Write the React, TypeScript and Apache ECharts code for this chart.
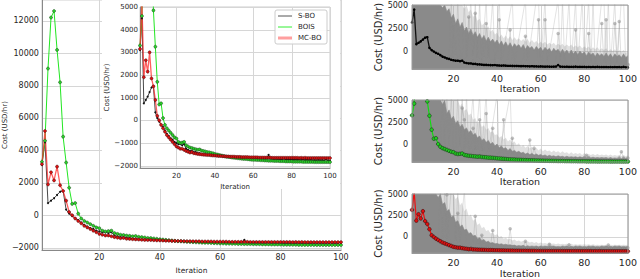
import React, { useEffect, useRef } from 'react';
import * as echarts from 'echarts';

const X_TICKS = [20, 40, 60, 80, 100];
const MAIN_Y_TICKS = [-2000, 0, 2000, 4000, 6000, 8000, 10000, 12000];
const INSET_Y_TICKS = [-2000, -1000, 0, 1000, 2000, 3000, 4000, 5000];
const SUB_Y_TICKS = [0, 2500, 5000];
const MAIN_Y_RANGE = [-2150, 13280];
const INSET_Y_RANGE = [-2100, 5000];
const SUB1_Y_RANGE = [-1950, 5000];
const SUB2_Y_RANGE = [-1890, 5000];
const SUB3_Y_RANGE = [-1880, 5000];

const SBO = [
  3100, 4500, 750, 900, 1050, 1250, 1450, 1500, 350, 100,
  -50, -200, -300, -450, -600, -700, -800, -850, -950, -1000,
  -1050, -1050, -1100, -1050, -1250, -1300, -1350, -1350, -1400, -1400,
  -1450, -1450, -1480, -1500, -1500, -1520, -1530, -1540, -1520, -1550,
  -1570, -1580, -1570, -1590, -1600, -1600, -1610, -1620, -1620, -1630,
  -1640, -1630, -1650, -1650, -1660, -1650, -1670, -1660, -1680, -1670,
  -1680, -1690, -1680, -1690, -1700, -1690, -1680, -1520, -1690, -1700,
  -1710, -1700, -1720, -1710, -1720, -1690, -1730, -1720, -1730, -1720,
  -1740, -1730, -1740, -1730, -1750, -1720, -1750, -1740, -1750, -1740,
  -1760, -1750, -1760, -1740, -1760, -1750, -1770, -1720, -1770, -1780,
];

const BOIS = [
  3300, 4600, 9050, 12200, 12600, 10200, 8200, 4850, 3250, 1700,
  700, 750, 100, -200, -350, -450, -550, -650, -750, -800,
  -950, -1000, -980, -950, -1100, -1150, -1200, -1220, -1250, -1270,
  -1300, -1280, -1330, -1350, -1370, -1400, -1410, -1430, -1450, -1480,
  -1500, -1520, -1540, -1560, -1580, -1600, -1610, -1620, -1640, -1650,
  -1660, -1670, -1680, -1690, -1700, -1700, -1710, -1720, -1730, -1740,
  -1740, -1750, -1750, -1760, -1760, -1770, -1770, -1780, -1780, -1780,
  -1790, -1790, -1790, -1800, -1800, -1800, -1810, -1810, -1810, -1810,
  -1820, -1820, -1820, -1820, -1820, -1830, -1830, -1830, -1830, -1830,
  -1830, -1840, -1840, -1840, -1840, -1840, -1840, -1840, -1840, -1840,
];

const MCBO = [
  3150, 5200, 1900, 2650, 2150, 3000, 1850, 1500, 900, 200,
  0, -200, -350, -500, -650, -750, -850, -950, -1050, -1150,
  -1200, -1250, -1250, -1300, -1350, -1380, -1420, -1400, -1450, -1460,
  -1480, -1490, -1500, -1510, -1520, -1530, -1530, -1540, -1550, -1550,
  -1560, -1570, -1570, -1580, -1580, -1590, -1590, -1600, -1600, -1600,
  -1610, -1610, -1610, -1620, -1620, -1620, -1620, -1630, -1630, -1630,
  -1630, -1630, -1640, -1640, -1640, -1640, -1640, -1640, -1640, -1650,
  -1650, -1650, -1650, -1650, -1650, -1650, -1650, -1650, -1650, -1650,
  -1650, -1650, -1650, -1660, -1650, -1660, -1650, -1660, -1660, -1660,
  -1660, -1660, -1660, -1660, -1660, -1660, -1660, -1660, -1660, -1660,
];

// upper edge of the dense grey cloud of individual runs (right panels)
const SBO_DENSE = [
  5000, 5000, 5000, 5000, 5000, 5000, 5000, 5000, 5000, 5000,
  5000, 5000, 5000, 5000, 4700, 5000, 4300, 4600, 3600, 4000,
  3000, 3500, 2600, 3100, 2200, 2600, 1900, 2400, 1700, 2100,
  1500, 1900, 1300, 1700, 1100, 1500, 1000, 1300, 900, 1200,
  700, 1100, 600, 1000, 500, 900, 400, 800, 500, 700,
  300, 700, 200, 600, 300, 500, 100, 500, 200, 400,
  0, 400, 100, 300, -100, 300, 0, 200, -200, 200,
  -200, 100, -300, 100, -300, 0, -400, 0, -300, -100,
  -500, -100, -400, -200, -600, -200, -500, -300, -600, -200,
  -600, -300, -700, -300, -600, -400, -700, -300, -700, -500,
];
const SBO_HAZE = [
  5000, 5000, 5000, 5000, 5000, 5000, 5000, 5000, 5000, 5000,
  5000, 5000, 5000, 5000, 5000, 5000, 5000, 5000, 5000, 5000,
  5000, 5000, 5000, 5000, 4600, 5000, 4200, 4500, 3700, 4000,
  3300, 3500, 2800, 3000, 2400, 2700, 2100, 2300, 1800, 2000,
  1500, 1800, 1400, 1700, 1300, 1600, 1200, 1500, 1200, 1400,
  1100, 1300, 1000, 1300, 900, 1200, 900, 1100, 800, 1000,
  800, 1000, 700, 900, 700, 900, 600, 800, 600, 800,
  500, 700, 500, 700, 400, 600, 400, 600, 300, 500,
  300, 500, 200, 400, 200, 400, 100, 300, 100, 300,
  0, 200, 0, 200, -100, 100, -100, 100, -200, 0,
];
const BOIS_DENSE = [
  5000, 5000, 5000, 5000, 5000, 5000, 5000, 5000, 5000, 5000,
  5000, 5000, 5000, 5000, 4500, 5000, 3500, 3900, 2900, 3200,
  2400, 2700, 2000, 2300, 1700, 1900, 1400, 1600, 1100, 1300,
  800, 1000, 500, 700, 300, 500, 100, 300, -100, 100,
  -300, -100, -400, -300, -600, -400, -700, -600, -800, -700,
  -900, -800, -1000, -900, -1050, -950, -1100, -1000, -1150, -1050,
  -1200, -1100, -1250, -1150, -1250, -1200, -1300, -1200, -1300, -1250,
  -1350, -1250, -1350, -1300, -1350, -1300, -1400, -1300, -1400, -1350,
  -1400, -1350, -1450, -1350, -1450, -1400, -1450, -1400, -1450, -1400,
  -1500, -1400, -1500, -1450, -1500, -1450, -1500, -1450, -1500, -1450,
];
const BOIS_HAZE = [
  5000, 5000, 5000, 5000, 5000, 5000, 5000, 5000, 5000, 5000,
  5000, 5000, 5000, 5000, 5000, 5000, 5000, 5000, 5000, 5000,
  5000, 5000, 4300, 4600, 3800, 4000, 3300, 3500, 2800, 3000,
  2400, 2600, 2000, 2200, 1700, 1900, 1400, 1500, 1100, 1200,
  800, 1000, 600, 800, 400, 600, 200, 400, 0, 200,
  -200, 0, -300, -100, -400, -200, -500, -300, -600, -400,
  -700, -500, -700, -600, -800, -600, -800, -700, -900, -700,
  -900, -800, -1000, -800, -1000, -900, -1000, -900, -1100, -900,
  -1100, -1000, -1100, -1000, -1150, -1000, -1150, -1050, -1150, -1050,
  -1200, -1050, -1200, -1100, -1200, -1100, -1250, -1100, -1250, -1150,
];
const MCBO_DENSE = [
  5000, 5000, 5000, 5000, 5000, 5000, 5000, 5000, 5000, 5000,
  5000, 5000, 4600, 5000, 3800, 4000, 3000, 3200, 2300, 2500,
  1700, 1900, 1200, 1400, 800, 900, 400, 500, 100, 200,
  -200, -100, -400, -300, -600, -500, -700, -650, -800, -750,
  -850, -800, -900, -850, -950, -900, -1000, -950, -1050, -1000,
  -1050, -1000, -1100, -1050, -1100, -1050, -1100, -1050, -1150, -1050,
  -1100, -1050, -1150, -1050, -1100, -1050, -1150, -1100, -1150, -1050,
  -1100, -1050, -1150, -1100, -1150, -1050, -1100, -1050, -1150, -1100,
  -1150, -1050, -1100, -1050, -1150, -1100, -1150, -1050, -1100, -1050,
  -1150, -1100, -1150, -1050, -1100, -1050, -1150, -1100, -1150, -1100,
];
const MCBO_HAZE = [
  5000, 5000, 5000, 5000, 5000, 5000, 5000, 5000, 5000, 5000,
  5000, 5000, 5000, 5000, 5000, 5000, 5000, 5000, 5000, 5000,
  4400, 4700, 3700, 4000, 3000, 3300, 2400, 2600, 1900, 2100,
  1400, 1600, 1000, 1200, 700, 800, 400, 500, 200, 300,
  0, 100, -200, -100, -300, -200, -400, -300, -500, -400,
  -550, -450, -600, -500, -650, -550, -700, -600, -750, -650,
  -750, -700, -800, -700, -800, -750, -850, -750, -850, -800,
  -850, -800, -900, -800, -900, -850, -900, -850, -900, -850,
  -900, -850, -950, -850, -950, -900, -950, -900, -950, -900,
  -950, -900, -950, -900, -950, -900, -950, -900, -950, -900,
];

// [iteration, cost] points of individual runs that spike out of the cloud
const SBO_SPIKES_TALL = [
  [18, -1000], [19, 5600], [20, -900], [21, -1100], [22, 5600], [23, -1000], [24, -1200], [25, 5600],
  [26, -1100], [28, 5600], [29, -1200], [30, 5600], [31, -1100], [32, 5600], [33, -1300], [35, 5600],
  [36, -1200], [38, 5600], [39, -1300], [41, 5600], [42, -1300], [47, 5600], [48, -1400], [53, 5600],
  [54, -1400], [58, 5600], [59, 5600], [60, -1400], [62, 5600], [63, -1500], [68, 5600], [69, -1400],
  [70, 5600], [71, -1500], [73, 5600], [74, -1500], [76, 5600], [77, -1500], [79, 5600], [80, -1500],
  [82, 5600], [83, -1500], [84, 5600], [85, -1500], [88, 5600], [89, 5600], [90, -1500], [91, 5600],
  [92, -1500], [94, 5600], [95, -1500], [97, 5600], [98, 5600], [99, -1500], [100, -1400],
];
const SBO_SPIKES_MID = [
  [19, -800], [20, 3000], [21, -600], [26, -900], [27, 3700], [28, -800], [29, -700], [30, 4100],
  [31, -900], [34, -800], [35, 3000], [36, -900], [40, -1000], [41, 3400], [42, -1100], [45, -1100],
  [46, 2300], [47, -1100], [52, -1100], [53, 1600], [54, -1200], [58, -1200], [59, 3400], [60, -1200],
  [61, -1300], [62, 3400], [63, -1300], [67, -1300], [68, 1900], [69, -1300], [75, -1300], [76, 2300],
  [77, -1400], [81, -1400], [82, 1900], [83, -1400], [87, -1400], [88, 3000], [89, -1400], [90, 3400],
  [91, -1500], [93, -1400], [94, 3000], [95, -1400], [96, 3200], [97, -1500], [100, -1500],
];
const BOIS_SPIKES_TALL = [
  [14, -500], [15, 5600], [16, -300], [17, 5600], [18, -200], [19, 5600], [20, -400], [21, -300],
  [22, 5600], [23, -400], [24, 5600], [25, -500], [26, 5600], [27, -600], [29, 5600], [30, -700],
  [32, 5600], [33, -800], [35, 5600], [36, -900], [40, 5600], [41, -1000], [46, 5600], [47, -1100],
  [50, -1200],
];
const BOIS_SPIKES_MID = [
  [23, -300], [24, 4100], [25, 2800], [26, -500], [28, -600], [29, 1850], [30, -700], [31, -700],
  [32, 2800], [33, -800], [34, -800], [35, 3500], [36, -900], [37, -900], [38, 1850], [39, -1000],
  [42, -1000], [43, 2800], [44, -1100], [46, -1100], [47, 750], [48, -1200], [54, -1200], [55, 550],
  [56, -1250], [57, -350], [58, -1300], [80, -1400], [81, -1150], [82, -1400], [96, -1450], [97, -750],
  [98, -1450], [100, -1450],
];
const MCBO_SPIKES_TALL = [
  [13, -300], [14, 5600], [15, -200], [16, 5600], [17, -400], [19, 5600], [20, 5600], [21, -600],
  [22, 5600], [23, -700], [25, 5600], [26, -800], [27, -800],
];
const MCBO_SPIKES_MID = [
  [16, -300], [17, 4900], [18, -500], [21, -600], [22, 2750], [23, -800], [29, -900], [30, 2400],
  [31, -1000], [32, -1000], [33, 200], [34, -1000], [37, -1000], [38, 750], [39, -1100], [45, -1100],
  [46, 950], [47, -1150], [52, -1150], [53, -500], [54, -1200], [63, -1200], [64, -850], [65, -1200],
  [72, -1250], [73, -900], [74, -1250], [90, -1250], [91, -950], [92, -1250], [100, -1250],
];

const FONT = 'DejaVu Sans';
const TXT = '#262626';
const GRIDLINE = '#d6d6d6';

const pts = (a: number[]) => a.map((v, i) => [i + 1, v]);
const minus = (v: number) => String(v).replace('-', '\u2212');

function xAxis(grid: number, o: any) {
  return {
    type: 'value', gridIndex: grid, min: 1, max: 100, z: o.z ?? 3,
    axisLine: { show: true, onZero: false, lineStyle: { color: o.line ?? '#999', width: 1 } },
    axisTick: { show: false, customValues: X_TICKS },
    axisLabel: { customValues: X_TICKS, fontSize: o.fs, color: TXT, fontFamily: FONT, margin: o.margin },
    splitLine: { show: false },
    name: 'Iteration', nameLocation: 'middle', nameGap: o.nameGap,
    nameTextStyle: { fontSize: o.nfs, color: TXT, fontFamily: FONT },
  };
}
function yAxis(grid: number, o: any) {
  return {
    type: 'value', gridIndex: grid, min: o.range[0], max: o.range[1], z: o.z ?? 3,
    axisLine: { show: true, onZero: false, lineStyle: { color: o.line ?? '#999', width: 1 } },
    axisTick: { show: false, customValues: o.ticks },
    axisLabel: { customValues: o.ticks, fontSize: o.fs, color: TXT, fontFamily: FONT, margin: o.margin, formatter: minus },
    splitLine: { show: false },
    name: 'Cost (USD/hr)', nameLocation: 'middle', nameGap: o.nameGap,
    nameTextStyle: { fontSize: o.nfs, color: TXT, fontFamily: FONT },
  };
}

const styles: any = {
  sbo: { lineStyle: { color: '#333', width: 0.9 }, symbol: 'circle', symbolSize: 2, itemStyle: { color: '#111' } },
  bois: { lineStyle: { color: '#22e622', width: 1 }, symbol: 'circle', symbolSize: 3, itemStyle: { color: '#2ad62a', borderColor: '#1a3a1a', borderWidth: 0.5 } },
  mcbo: { lineStyle: { color: 'rgba(255,40,40,0.75)', width: 1.3 }, symbol: 'circle', symbolSize: 3, itemStyle: { color: '#e01010', borderColor: '#3a1010', borderWidth: 0.5 } },
};

function lineSeries(name: string, data: number[], ax: number, z: number, st: any) {
  return { type: 'line', name, data: pts(data), xAxisIndex: ax, yAxisIndex: ax, z, ...st, emphasis: { disabled: true } };
}

function cloud(ax: number, haze: number[], dense: number[], tall: number[][], mid: number[][]) {
  return [
    { type: 'line', data: pts(haze), xAxisIndex: ax, yAxisIndex: ax, z: 4, symbol: 'none',
      lineStyle: { width: 0 }, areaStyle: { color: 'rgba(128,128,128,0.35)', origin: 'start' } },
    { type: 'line', data: tall, xAxisIndex: ax, yAxisIndex: ax, z: 4, symbol: 'circle', symbolSize: 3,
      itemStyle: { color: 'rgba(140,140,140,0.45)' }, lineStyle: { color: 'rgba(140,140,140,0.3)', width: 0.8 } },
    { type: 'line', data: mid, xAxisIndex: ax, yAxisIndex: ax, z: 4, symbol: 'circle', symbolSize: 3.5,
      itemStyle: { color: 'rgba(140,140,140,0.55)' }, lineStyle: { color: 'rgba(140,140,140,0.35)', width: 0.8 } },
    { type: 'line', data: pts(dense), xAxisIndex: ax, yAxisIndex: ax, z: 4, symbol: 'none',
      lineStyle: { width: 0.6, color: '#8a8a8a' }, areaStyle: { color: '#8a8a8a', opacity: 1, origin: 'start' } },
  ];
}

export default function App() {
  const ref = useRef<HTMLDivElement>(null);
  useEffect(() => {
    const chart = echarts.init(ref.current!, undefined, { renderer: 'svg' });
    const lg = (y: number, color: string, w: number, label: string) => [
      { type: 'line', z: 20, shape: { x1: 278, y1: y, x2: 292, y2: y }, style: { stroke: color, lineWidth: w } },
      { type: 'text', z: 20, x: 298, y: y, style: { text: label, fontSize: 7, fontFamily: FONT, fill: TXT, verticalAlign: 'middle' } },
    ];
    const baseElements: any[] = [
      { type: 'rect', z: 4, shape: { x: 102, y: 0, width: 238, height: 189 }, style: { fill: '#fff' } },
      { type: 'rect', z: 19, shape: { x: 275, y: 10, width: 52, height: 34, r: 2 }, style: { fill: 'rgba(255,255,255,0.9)', stroke: '#ccc', lineWidth: 1 } },
      ...lg(16, '#555', 1, 'S-BO'),
      ...lg(27, '#33ee33', 1, 'BOIS'),
      ...lg(38, 'rgba(255,80,80,0.55)', 3, 'MC-BO'),
    ];
    chart.setOption({
      animation: false,
      backgroundColor: '#fff',
      grid: [
        { left: 36, top: 0, width: 305, height: 262, show: true, borderColor: '#d0d0d0', borderWidth: 1, z: 1 },
        { left: 140, top: 7, width: 190, height: 161, show: true, borderColor: '#cccccc', borderWidth: 1, z: 5 },
        { left: 412, top: 5, width: 220, height: 64, show: true, borderColor: '#999', borderWidth: 1, z: 6 },
        { left: 412, top: 100, width: 220, height: 62, show: true, borderColor: '#999', borderWidth: 1, z: 6 },
        { left: 412, top: 194, width: 220, height: 63, show: true, borderColor: '#999', borderWidth: 1, z: 6 },
      ],
      xAxis: [
        xAxis(0, { fs: 8, margin: 3, nameGap: 10, nfs: 7.5, line: '#888', z: 1 }),
        xAxis(1, { fs: 7, margin: 4, nameGap: 11, nfs: 7, line: '#888', z: 6 }),
        xAxis(2, { fs: 9.5, margin: 4, nameGap: 10, nfs: 9.5 }),
        xAxis(3, { fs: 9.5, margin: 4, nameGap: 13, nfs: 9.5 }),
        xAxis(4, { fs: 9.5, margin: 4, nameGap: 10, nfs: 9.5 }),
      ],
      yAxis: [
        yAxis(0, { range: MAIN_Y_RANGE, ticks: MAIN_Y_TICKS, fs: 8, margin: 3, nameGap: 29, nfs: 7, line: '#888', z: 1 }),
        yAxis(1, { range: INSET_Y_RANGE, ticks: INSET_Y_TICKS, fs: 7, margin: 2, nameGap: 27, nfs: 7, line: '#888', z: 6 }),
        yAxis(2, { range: SUB1_Y_RANGE, ticks: SUB_Y_TICKS, fs: 8, margin: 4, nameGap: 27, nfs: 10 }),
        yAxis(3, { range: SUB2_Y_RANGE, ticks: SUB_Y_TICKS, fs: 8, margin: 4, nameGap: 27, nfs: 10 }),
        yAxis(4, { range: SUB3_Y_RANGE, ticks: SUB_Y_TICKS, fs: 8, margin: 4, nameGap: 27, nfs: 10 }),
      ],
      graphic: { elements: baseElements },
      series: [
        lineSeries('S-BO', SBO, 0, 2, styles.sbo),
        lineSeries('BOIS', BOIS, 0, 2, styles.bois),
        lineSeries('MC-BO', MCBO, 0, 2, styles.mcbo),
        lineSeries('S-BO', SBO, 1, 7, styles.sbo),
        lineSeries('BOIS', BOIS, 1, 7, styles.bois),
        lineSeries('MC-BO', MCBO, 1, 7, styles.mcbo),
        ...cloud(2, SBO_HAZE, SBO_DENSE, SBO_SPIKES_TALL, SBO_SPIKES_MID),
        lineSeries('S-BO', SBO, 2, 5, { lineStyle: { color: '#111', width: 1.3 }, symbol: 'circle', symbolSize: 2.6, itemStyle: { color: '#000' } }),
        ...cloud(3, BOIS_HAZE, BOIS_DENSE, BOIS_SPIKES_TALL, BOIS_SPIKES_MID),
        lineSeries('BOIS', BOIS, 3, 5, { lineStyle: { color: '#11dd11', width: 1.2 }, symbol: 'circle', symbolSize: 3.6, itemStyle: { color: '#22cc22', borderColor: '#143814', borderWidth: 0.6 } }),
        ...cloud(4, MCBO_HAZE, MCBO_DENSE, MCBO_SPIKES_TALL, MCBO_SPIKES_MID),
        lineSeries('MC-BO', MCBO, 4, 5, { lineStyle: { color: '#ee1111', width: 1.2 }, symbol: 'circle', symbolSize: 3.6, itemStyle: { color: '#e01010', borderColor: '#381010', borderWidth: 0.6 } }),
      ],
    });

    // grid lines at the tick values, positioned through each axis' own scale
    const specs = [
      { ax: 0, range: MAIN_Y_RANGE, yt: MAIN_Y_TICKS, z: 1 },
      { ax: 1, range: INSET_Y_RANGE, yt: INSET_Y_TICKS, z: 5 },
      { ax: 2, range: SUB1_Y_RANGE, yt: SUB_Y_TICKS, z: 3 },
      { ax: 3, range: SUB2_Y_RANGE, yt: SUB_Y_TICKS, z: 3 },
      { ax: 4, range: SUB3_Y_RANGE, yt: SUB_Y_TICKS, z: 3 },
    ];
    const gl: any[] = [];
    specs.forEach((s) => {
      const px = (v: number) => Number(chart.convertToPixel({ xAxisIndex: s.ax }, v));
      const py = (v: number) => Number(chart.convertToPixel({ yAxisIndex: s.ax }, v));
      const xL = px(1), xR = px(100), yT = py(s.range[1]), yB = py(s.range[0]);
      X_TICKS.forEach((t) => {
        const x = Math.round(px(t)) + 0.5;
        gl.push({ type: 'line', z: s.z, silent: true, shape: { x1: x, y1: yT, x2: x, y2: yB }, style: { stroke: GRIDLINE, lineWidth: 1 } });
      });
      s.yt.forEach((t) => {
        const y = Math.round(py(t)) + 0.5;
        gl.push({ type: 'line', z: s.z, silent: true, shape: { x1: xL, y1: y, x2: xR, y2: y }, style: { stroke: GRIDLINE, lineWidth: 1 } });
      });
    });
    chart.setOption({ graphic: { elements: [...baseElements, ...gl] } });
    return () => chart.dispose();
  }, []);
  return <div ref={ref} style={{ position: 'fixed', left: 0, top: 0, width: 640, height: 279 }} />;
}
